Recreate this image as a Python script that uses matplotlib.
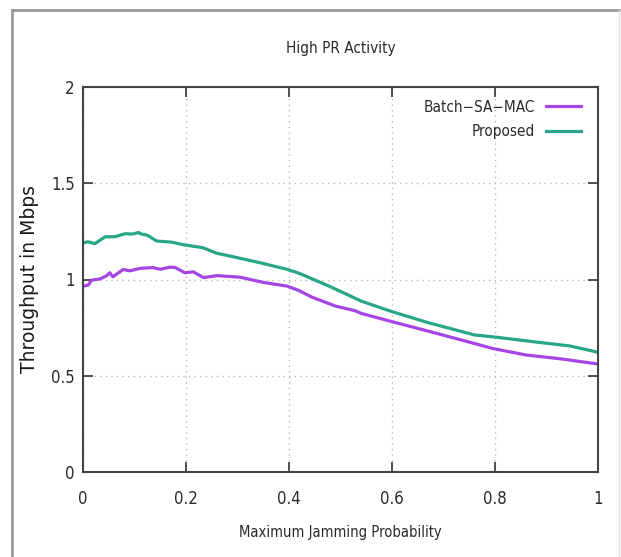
import matplotlib
matplotlib.use("Agg")
import matplotlib.pyplot as plt
from matplotlib.lines import Line2D

# Throughput vs. maximum jamming probability
batch_x = [0.0, 0.01, 0.017, 0.033, 0.045, 0.052, 0.058, 0.078, 0.091, 0.111,
           0.136, 0.15, 0.169, 0.179, 0.198, 0.214, 0.234, 0.26, 0.305, 0.35,
           0.396, 0.42, 0.443, 0.49, 0.528, 0.54, 0.60, 0.67, 0.74, 0.795,
           0.86, 0.93, 1.0]
batch_y = [0.965, 0.971, 0.997, 1.003, 1.018, 1.035, 1.014, 1.052, 1.045, 1.058,
           1.062, 1.053, 1.064, 1.062, 1.035, 1.04, 1.01, 1.02, 1.012, 0.985,
           0.966, 0.942, 0.91, 0.862, 0.838, 0.824, 0.781, 0.732, 0.682, 0.642,
           0.608, 0.587, 0.561]

prop_x = [0.0, 0.01, 0.023, 0.043, 0.062, 0.082, 0.095, 0.108, 0.111, 0.125,
          0.143, 0.172, 0.194, 0.233, 0.26, 0.285, 0.344, 0.396, 0.42, 0.48,
          0.54, 0.60, 0.67, 0.76, 0.803, 0.88, 0.945, 1.0]
prop_y = [1.19, 1.196, 1.186, 1.222, 1.222, 1.238, 1.236, 1.244, 1.238, 1.23,
          1.20, 1.194, 1.181, 1.165, 1.136, 1.122, 1.087, 1.053, 1.032, 0.963,
          0.888, 0.833, 0.776, 0.712, 0.70, 0.675, 0.655, 0.622]

x_ticks = [0, 0.2, 0.4, 0.6, 0.8, 1]
x_tick_labels = ["0", "0.2", "0.4", "0.6", "0.8", "1"]
y_ticks = [0, 0.5, 1, 1.5, 2]
y_tick_labels = ["0", "0.5", "1", "1.5", "2"]

plt.rcParams["font.family"] = ["DejaVu Sans"]
plt.rcParams["font.stretch"] = "condensed"

TXT = "#2a2a2a"
FS = 11

fig = plt.figure(figsize=(6.21, 5.57), dpi=100)
ax = fig.add_axes([83 / 621, 1 - 472 / 557, (598 - 83) / 621, (472 - 87) / 557])

ax.plot(batch_x, batch_y, color="#a545e6", lw=2.3, label="Batch\u2212SA\u2212MAC")
ax.plot(prop_x, prop_y, color="#27a688", lw=2.3, label="Proposed")

ax.set_xlim(0, 1)
ax.set_ylim(0, 2)
ax.set_xticks(x_ticks)
ax.set_xticklabels(x_tick_labels)
ax.set_yticks(y_ticks)
ax.set_yticklabels(y_tick_labels)

ax.grid(True, color="#b8b8b8", linestyle=(0, (1, 3)), lw=1.0)
ax.tick_params(direction="in", length=7, width=1.2, color="#333333",
               top=True, right=True, labelsize=FS + 1, labelcolor=TXT)
ax.tick_params(axis="x", pad=13)
ax.tick_params(axis="y", pad=6)
for s in ax.spines.values():
    s.set_color("#444444")
    s.set_linewidth(1.5)

fig.text(341 / 621, 1 - 48 / 557, "High PR Activity", fontsize=FS, color=TXT,
         ha="center", va="center")
fig.text(340 / 621, 1 - 533 / 557, "Maximum Jamming Probability", fontsize=FS * 0.97,
         color=TXT, ha="center", va="center")
fig.text(30 / 621, 1 - 279 / 557, "Throughput in Mbps", fontsize=13.5,
         color="#1a1a1a", ha="center", va="center", rotation=90,
         fontstretch="normal")

leg = ax.legend(loc="upper right", bbox_to_anchor=(1, 1 + 4 / 385), frameon=False,
                markerfirst=False, fontsize=FS, handlelength=2.3, handletextpad=0.7,
                borderaxespad=0.7, labelspacing=0.6)
for t in leg.get_texts():
    t.set_color(TXT)

# outer frame
for xs, ys in [([12 / 621, 12 / 621], [0, 1 - 10 / 557]),
               ([12 / 621, 619 / 621], [1 - 10 / 557, 1 - 10 / 557])]:
    fig.add_artist(Line2D(xs, ys, color="#9a9a9a", lw=2.0))
fig.add_artist(Line2D([619 / 621, 619 / 621], [0, 1 - 10 / 557], color="#e0e0e0", lw=1.0))

fig.savefig("out.png", dpi=100)
